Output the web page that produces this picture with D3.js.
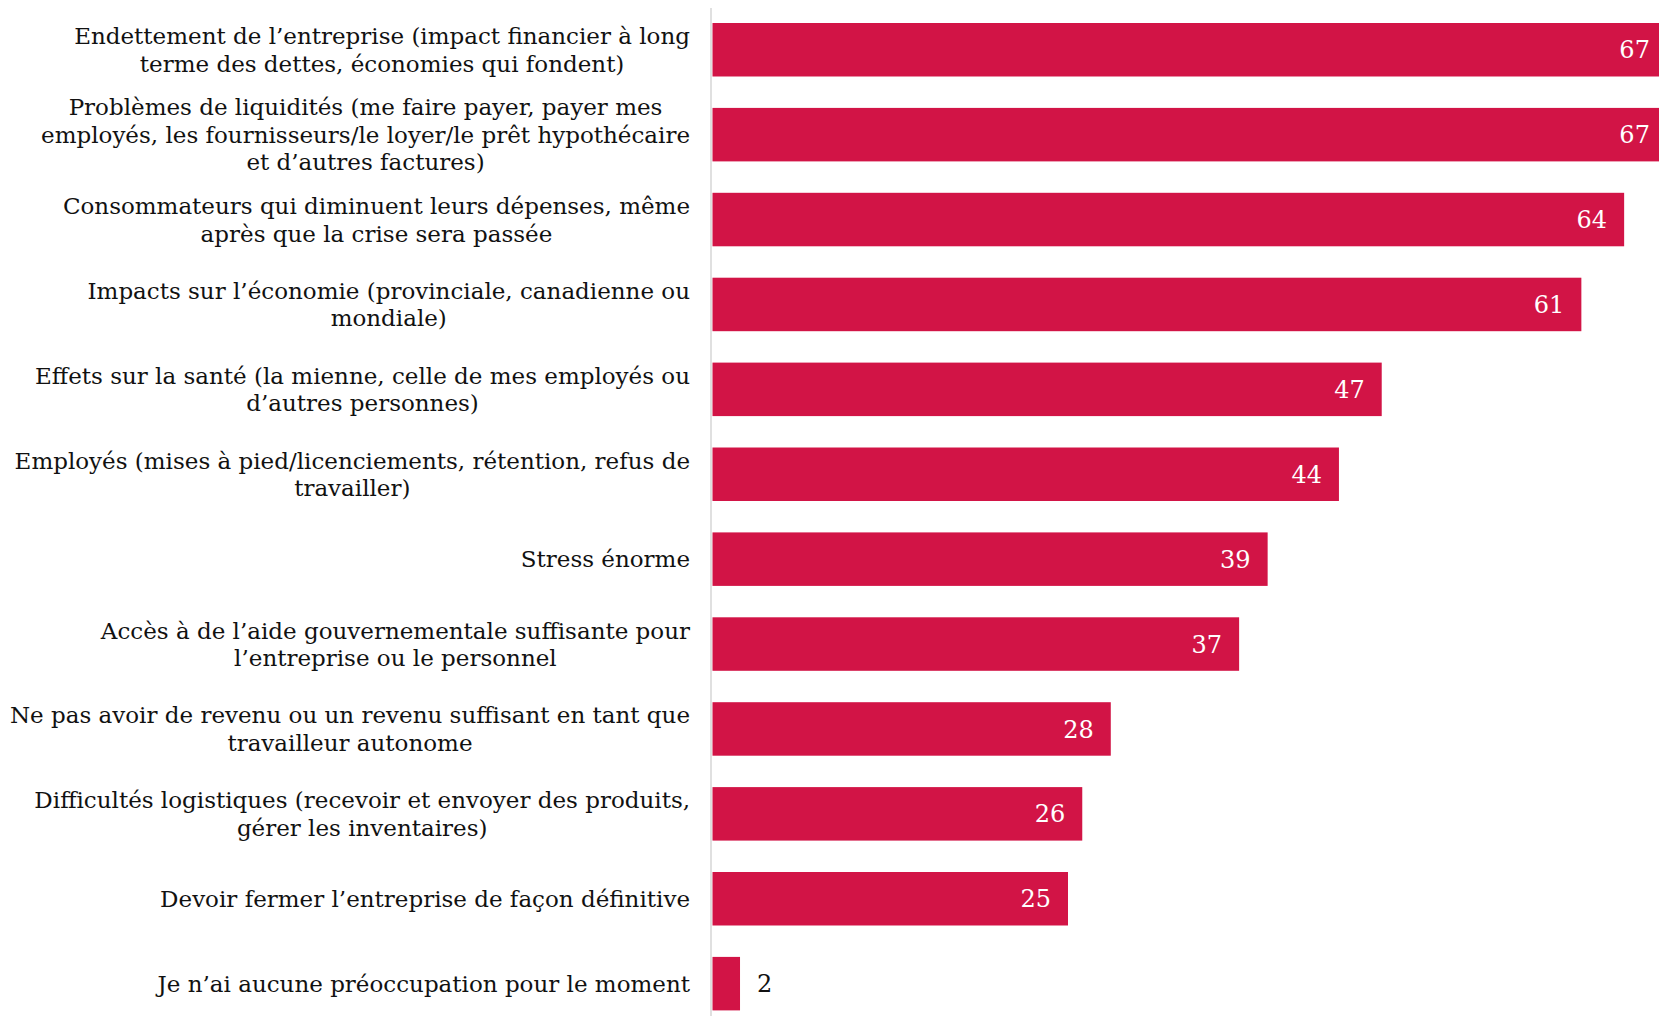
<!DOCTYPE html>
<html>
<head>
<meta charset="utf-8">
<script src="https://cdn.jsdelivr.net/npm/d3@7"></script>
<style>
  html, body { margin: 0; padding: 0; background: #fff; overflow: hidden; }
  svg { display: block; }
</style>
</head>
<body>
<svg id="chart" width="1659" height="1016"></svg>
<script>
const categories = [
  ["Endettement de l’entreprise (impact financier à long", "terme des dettes, économies qui fondent)"],
  ["Problèmes de liquidités (me faire payer, payer mes", "employés, les fournisseurs/le loyer/le prêt hypothécaire", "et d’autres factures)"],
  ["Consommateurs qui diminuent leurs dépenses, même", "après que la crise sera passée"],
  ["Impacts sur l’économie (provinciale, canadienne ou", "mondiale)"],
  ["Effets sur la santé (la mienne, celle de mes employés ou", "d’autres personnes)"],
  ["Employés (mises à pied/licenciements, rétention, refus de", "travailler)"],
  ["Stress énorme"],
  ["Accès à de l’aide gouvernementale suffisante pour", "l’entreprise ou le personnel"],
  ["Ne pas avoir de revenu ou un revenu suffisant en tant que", "travailleur autonome"],
  ["Difficultés logistiques (recevoir et envoyer des produits,", "gérer les inventaires)"],
  ["Devoir fermer l’entreprise de façon définitive"],
  ["Je n’ai aucune préoccupation pour le moment"]
];
const values = [67, 67, 64, 61, 47, 44, 39, 37, 28, 26, 25, 2];

const W = 1659, H = 1016;
const svg = d3.select("#chart");
const FONT = "'DejaVu Serif', 'Liberation Serif', serif";
const BAR = "#d21446";

const idx = d3.range(values.length);
const y = d3.scaleBand().domain(idx).range([7.3, 7.3 + 12 * 84.9]).paddingInner(0.37).paddingOuter(0.185);
const x = d3.scaleLinear().domain([0, 70]).range([711.5, 711.5 + 70 * 14.26]);

// axis line
svg.append("line")
  .attr("x1", 711).attr("x2", 711)
  .attr("y1", 8).attr("y2", H)
  .attr("stroke", "#d6d6d6").attr("stroke-width", 1.5);

// bars
svg.append("g").selectAll("rect").data(idx).join("rect")
  .attr("x", x(0) + 1)
  .attr("y", i => y(i))
  .attr("width", i => x(values[i]) - x(0) - 1)
  .attr("height", y.bandwidth())
  .attr("fill", BAR);

// value labels
svg.append("g").selectAll("text").data(idx).join("text")
  .attr("x", i => values[i] > 5 ? x(values[i]) - 17 : x(values[i]) + 17)
  .attr("y", i => y(i) + y.bandwidth() / 2)
  .attr("dy", "0.36em")
  .attr("text-anchor", i => values[i] > 5 ? "end" : "start")
  .attr("fill", i => values[i] > 5 ? "#ffffff" : "#111111")
  .style("font-family", FONT)
  .style("font-size", "24px")
  .text(i => values[i]);

// category labels
const lineH = 27.5;
const labelRight = 690;
const lg = svg.append("g");
idx.forEach(i => {
  const lines = categories[i];
  const cy = y(i) + y.bandwidth() / 2;
  const t = lg.append("g");
  const texts = lines.map((ln, k) => t.append("text")
    .attr("y", cy + (k - (lines.length - 1) / 2) * lineH)
    .attr("dy", "0.36em")
    .attr("text-anchor", "middle")
    .attr("fill", "#111111")
    .style("font-family", FONT)
    .style("font-size", "23px")
    .text(ln));
  const maxW = d3.max(texts, tx => tx.node().getComputedTextLength());
  texts.forEach(tx => tx.attr("x", labelRight - maxW / 2));
});
</script>
</body>
</html>
